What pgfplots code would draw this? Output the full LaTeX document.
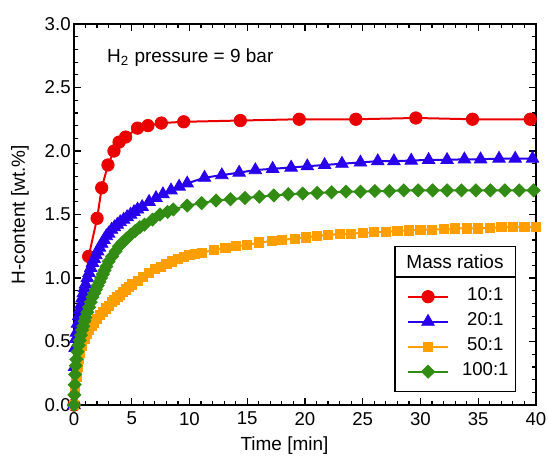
\documentclass[border=0pt]{standalone}
\usepackage{pgfplots}
\pgfplotsset{compat=1.18}
\usepackage{fontspec}
\setmainfont{Liberation Sans}
\definecolor{cred}{RGB}{235,0,0}
\definecolor{cblue}{RGB}{40,0,235}
\definecolor{corange}{RGB}{255,158,0}
\definecolor{cgreen}{RGB}{50,140,20}
\begin{document}
\begin{tikzpicture}
\useasboundingbox (-37pt,-26pt) rectangle (237pt,202.5pt);
\begin{axis}[
  at={(0,0)}, anchor=south west,
  scale only axis, width=231pt, height=190.5pt,
  xmin=0, xmax=40, ymin=0, ymax=3,
  xtick={0,5,...,40}, ytick={0,0.5,1,1.5,2,2.5,3},
  minor x tick num=4, minor y tick num=4,
  tick align=inside,
  major tick length=3.5pt, minor tick length=2pt,
  every tick/.style={black, line width=0.6pt},
  axis line style={line width=0.8pt},
  clip=false,
  font=\fontsize{9.5}{11}\selectfont,
  tick label style={font=\fontsize{9.3}{11}\selectfont},
  /pgf/number format/assume math mode=true,
  yticklabel style={/pgf/number format/fixed, /pgf/number format/fixed zerofill, /pgf/number format/precision=1, inner sep=1.5pt},
  xticklabel style={/pgf/number format/fixed, /pgf/number format/precision=0},
  xlabel={Time [min]}, ylabel={H-content [wt.\%]},
  xlabel style={at={(axis description cs:0.4556,-0.1076)}, anchor=center},
  ylabel style={at={(axis description cs:-0.1169,0.5)}, anchor=center},
  legend style={at={(axis description cs:0.720,0.1858)}, anchor=west, draw=none, fill=none,
    inner sep=0pt, column sep=6.5pt, row sep=0pt,
    nodes={inner sep=0pt, text height=8pt, text depth=4.5pt},
    font=\fontsize{9.3}{11}\selectfont},
  legend cell align=center,
  legend image code/.code={\draw[mark repeat=2,mark phase=2] plot coordinates {(0pt,0pt)(10pt,0pt)(20pt,0pt)};},
]
\addplot[color=cred, line width=1pt, mark=*, mark size=3.1pt, mark options={solid, fill=cred, draw=cred, line width=0.4pt}] coordinates {
(0,0) (1.27,1.17) (2.0,1.47) (2.4,1.71) (2.94,1.89) (3.46,2.0) (3.9,2.07) (4.47,2.11) (5.5,2.18) (6.4,2.2) (7.56,2.22) (9.5,2.23) (14.4,2.24) (19.5,2.25) (24.4,2.25) (29.6,2.26) (34.5,2.25) (39.5,2.25)
};
\addlegendentry{10:1}
\addplot[color=cblue, line width=1pt, mark=triangle*, mark size=3.6pt, mark options={solid, fill=cblue, draw=cblue, line width=0.4pt}] coordinates {
(0,0) (0.05,0.3) (0.1,0.45) (0.15,0.52) (0.2,0.57) (0.3,0.64) (0.4,0.70) (0.5,0.75) (0.6,0.79) (0.7,0.84) (0.8,0.88) (0.9,0.92) (1.0,0.95) (1.15,1.00) (1.3,1.04) (1.45,1.08) (1.6,1.12) (1.75,1.15) (1.9,1.18) (2.05,1.21) (2.2,1.24) (2.4,1.27) (2.6,1.30) (2.8,1.33) (3.0,1.35) (3.25,1.38) (3.5,1.40) (3.75,1.42) (4.0,1.44) (4.3,1.46) (4.6,1.48) (4.9,1.50) (5.2,1.52) (5.5,1.54) (5.9,1.56) (6.5,1.60) (7.1,1.63) (7.7,1.66) (8.4,1.69) (9.1,1.72) (9.8,1.745) (11.3,1.79) (12.8,1.81) (14.3,1.83) (15.7,1.85) (17.2,1.86) (18.8,1.87) (20.2,1.88) (21.7,1.89) (23.2,1.90) (24.8,1.91) (26.3,1.92) (27.7,1.92) (29.2,1.925) (30.7,1.93) (32.3,1.93) (33.8,1.935) (35.2,1.935) (36.8,1.94) (38.2,1.94) (39.7,1.94)
};
\addlegendentry{20:1}
\addplot[color=corange, line width=1pt, mark=square*, mark size=2.3pt, mark options={solid, fill=corange, draw=corange, line width=0.4pt}] coordinates {
(0,0) (0.1,0.12) (0.2,0.22) (0.3,0.30) (0.4,0.36) (0.5,0.41) (0.7,0.47) (0.9,0.52) (1.1,0.56) (1.3,0.59) (1.5,0.62) (1.75,0.65) (2.0,0.68) (2.25,0.71) (2.5,0.73) (2.75,0.76) (3.0,0.78) (3.25,0.81) (3.5,0.83) (3.75,0.85) (4.0,0.87) (4.25,0.89) (4.5,0.91) (4.75,0.93) (5.0,0.95) (5.5,0.98) (6.0,1.01) (6.5,1.04) (7.0,1.07) (7.5,1.09) (8.0,1.11) (8.5,1.13) (9.0,1.15) (9.5,1.165) (10.0,1.18) (10.5,1.19) (11.1,1.20) (12.1,1.22) (13.1,1.24) (14.0,1.25) (15.0,1.26) (16.0,1.28) (17.1,1.29) (18.0,1.30) (19.1,1.31) (20.1,1.32) (21.0,1.33) (22.0,1.34) (23.0,1.345) (24.0,1.35) (25.0,1.355) (26.0,1.36) (27.0,1.365) (28.0,1.37) (29.0,1.375) (30.0,1.38) (31.0,1.38) (32.0,1.385) (33.0,1.39) (34.0,1.39) (35.0,1.39) (36.0,1.395) (37.0,1.40) (38.0,1.40) (39.0,1.40) (40.0,1.40)
};
\addlegendentry{50:1}
\addplot[color=cgreen, line width=1pt, mark=square*, mark size=2.3pt, mark options={solid, rotate=45, fill=cgreen, draw=cgreen, line width=0.4pt}] coordinates {
(0,0) (0.03,0.08) (0.06,0.16) (0.1,0.24) (0.15,0.31) (0.2,0.36) (0.3,0.42) (0.4,0.47) (0.5,0.51) (0.6,0.55) (0.7,0.59) (0.8,0.62) (0.9,0.66) (1.0,0.69) (1.15,0.73) (1.3,0.77) (1.45,0.81) (1.6,0.85) (1.75,0.88) (1.9,0.91) (2.05,0.94) (2.2,0.97) (2.35,1.00) (2.5,1.03) (2.65,1.06) (2.8,1.09) (3.0,1.13) (3.3,1.17) (3.6,1.21) (3.9,1.25) (4.2,1.28) (4.55,1.31) (4.9,1.34) (5.3,1.37) (5.7,1.40) (6.1,1.42) (6.8,1.46) (7.45,1.50) (8.1,1.52) (8.6,1.54) (9.8,1.57) (11.05,1.59) (12.3,1.61) (13.55,1.62) (14.8,1.63) (16.05,1.64) (17.3,1.65) (18.55,1.66) (19.8,1.665) (21.05,1.67) (22.3,1.675) (23.55,1.68) (24.8,1.68) (26.05,1.685) (27.3,1.685) (28.55,1.69) (29.8,1.69) (31.05,1.69) (32.3,1.69) (33.55,1.69) (34.8,1.69) (36.05,1.69) (37.3,1.69) (38.55,1.69) (39.8,1.69)
};
\addlegendentry{100:1}
\draw[line width=0.6pt, fill=white] (axis description cs:0.695,0.035) rectangle (axis description cs:0.955,0.4155);
\draw[line width=0.6pt] (axis description cs:0.695,0.336) -- (axis description cs:0.955,0.336);
\node[font=\fontsize{9.5}{11}\selectfont, inner sep=0pt] at (axis description cs:0.8247,0.3766) {Mass ratios};
\node[anchor=west, inner sep=0pt, font=\fontsize{9.5}{11}\selectfont] at (axis description cs:0.0708,0.913) {H\textsubscript{2} pressure = 9 bar};
\end{axis}
\end{tikzpicture}
\end{document}
